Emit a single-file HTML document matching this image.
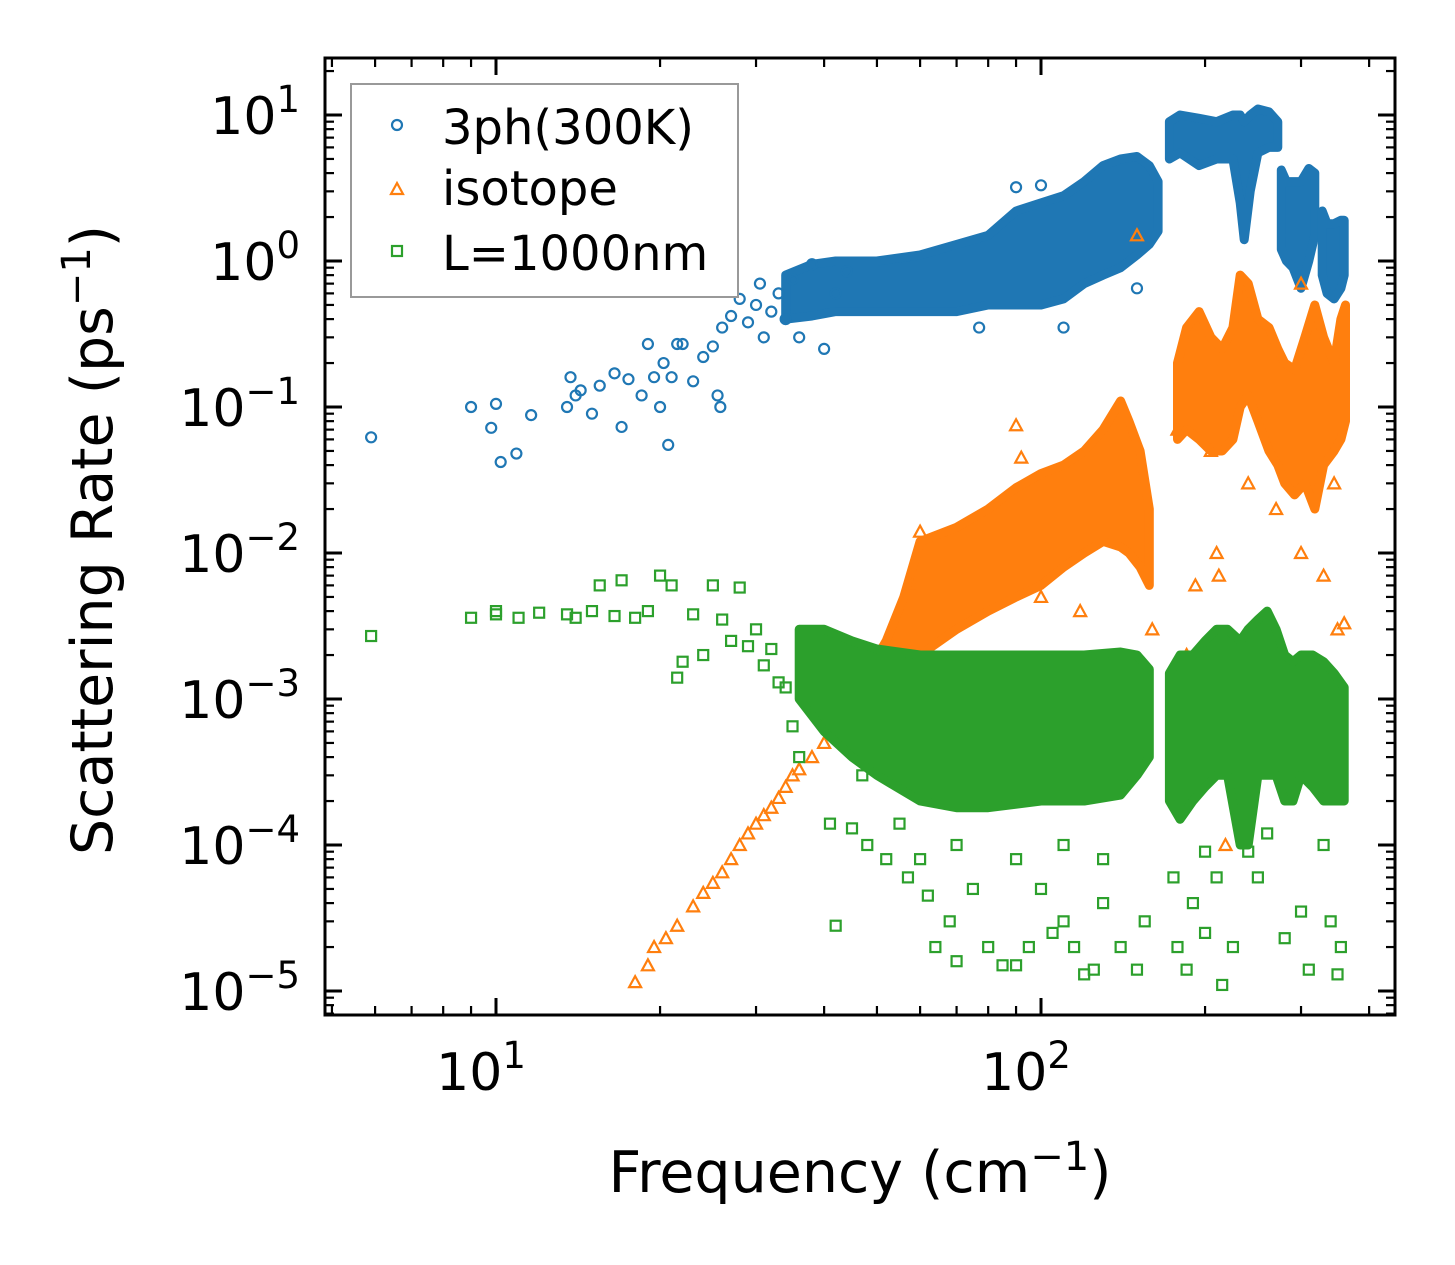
<!DOCTYPE html>
<html><head><meta charset="utf-8"><style>
html,body{margin:0;padding:0;background:#fff;}
svg{display:block;font-family:"DejaVu Sans","Liberation Sans",sans-serif;}
</style></head><body>
<svg id="chart" width="1455" height="1265" viewBox="0 0 1455 1265" xmlns="http://www.w3.org/2000/svg">
<rect x="0" y="0" width="1455" height="1265" fill="#fff"/>
<defs><clipPath id="plotclip"><rect x="325" y="58" width="1070" height="957"/></clipPath></defs>
<g id="plot" clip-path="url(#plotclip)"></g>
<g id="axes"></g>
<text x="860" y="1192" font-size="57" text-anchor="middle">Frequency (cm<tspan dy="-22" font-size="40">−1</tspan><tspan dy="22">)</tspan></text>
<text transform="translate(112,540) rotate(-90)" font-size="57" text-anchor="middle">Scattering Rate (ps<tspan dy="-22" font-size="40">−1</tspan><tspan dy="22">)</tspan></text>
<g>
<rect x="351" y="84" width="387" height="213" fill="#fff" stroke="#999" stroke-width="2"/>
<circle cx="397" cy="125" r="5" fill="none" stroke="#1f77b4" stroke-width="2.2"/>
<text x="442" y="144" font-size="48">3ph(300K)</text>
<polygon points="397,183 403,194 391,194" fill="none" stroke="#ff7f0e" stroke-width="2.2"/>
<text x="442" y="205" font-size="48">isotope</text>
<rect x="392" y="246" width="10" height="10" fill="none" stroke="#2ca02c" stroke-width="2.2"/>
<text x="442" y="270" font-size="48">L=1000nm</text>
</g>
</svg>
<script>
// ---- data ----
const blueBandX=[34,38,42,50,60,70,80,90,100,110,120,130,140,150,158,164];
const blueBandLow=[0.4,0.42,0.45,0.45,0.45,0.45,0.5,0.5,0.5,0.55,0.7,0.8,0.9,1.1,1.3,1.6];
const blueBandHigh=[0.8,0.95,1.0,1.0,1.1,1.3,1.5,2.2,2.5,2.8,3.5,4.5,5,5.2,4.5,3.5];
const blueBand2X=[172,180,195,210,225,232,236,242,250,262,272];
const blueBand2Low=[5,5.5,4.5,5,5,2.5,1.4,3,5.5,6,6];
const blueBand2High=[9,10,9.5,9,10,10,9,10,11,10.5,9];
const blueBand3X=[276,282,290,300,310,318];
const blueBand3Low=[1.2,1.0,0.9,0.65,1.0,1.5];
const blueBand3High=[4.2,3.5,3.5,3.5,4.3,4];
const blueBand4X=[328,335,345,355,360];
const blueBand4Low=[0.8,0.6,0.55,0.65,0.8];
const blueBand4High=[2.2,1.8,1.8,1.9,1.9];
const blueX=[5.9,9,9.8,10,10.2,10.9,11.6,13.5,13.7,14,14.3,15,15.5,16.5,17,17.5,18.5,19,19.5,20,20.3,20.7,21,21.5,22,23,24,25,25.5,25.8,26,27,28,29,30,30.5,31,32,33,34,35,36,38,40,42,44,77,90,100,110,150];
const blueY=[0.062,0.1,0.072,0.105,0.042,0.048,0.088,0.1,0.16,0.12,0.13,0.09,0.14,0.17,0.073,0.155,0.12,0.27,0.16,0.1,0.2,0.055,0.16,0.27,0.27,0.15,0.22,0.26,0.12,0.1,0.35,0.42,0.55,0.38,0.5,0.7,0.3,0.45,0.6,0.4,0.75,0.3,0.95,0.25,0.6,0.85,0.35,3.2,3.3,0.35,0.65];

const orangeBandX=[48,52,56,60,70,80,90,100,110,120,130,140,145,152,158];
const orangeBandLow=[0.9e-3,1.1e-3,1.5e-3,2e-3,3e-3,4e-3,5e-3,6e-3,8e-3,1e-2,1.2e-2,1.1e-2,1e-2,8e-3,6e-3];
const orangeBandHigh=[1.5e-3,2.5e-3,5e-3,1.2e-2,1.5e-2,2e-2,2.8e-2,3.5e-2,4e-2,5e-2,7e-2,1.1e-1,8e-2,5e-2,2e-2];
const orangeBand2X=[178,185,195,205,215,225,232,240,250,262,272,280,292,305,318,330,345,355,362];
const orangeBand2Low=[0.06,0.07,0.06,0.05,0.05,0.06,0.1,0.12,0.08,0.05,0.04,0.03,0.025,0.03,0.02,0.04,0.05,0.06,0.08];
const orangeBand2High=[0.2,0.35,0.45,0.3,0.25,0.35,0.8,0.7,0.4,0.35,0.25,0.2,0.18,0.3,0.5,0.3,0.2,0.4,0.5];
const orangeX=[18,19,19.5,20.5,21.5,23,24,25,26,27,28,29,30,31,32,33,34,35,36,38,40,42,44,46,58,60,90,92,100,118,150,160,178,185,192,205,210,212,215,218,240,270,300,330,350,300,345,360];
const orangeY=[1.15e-5,1.5e-5,2e-5,2.3e-5,2.8e-5,3.8e-5,4.7e-5,5.5e-5,6.5e-5,8e-5,1e-4,1.2e-4,1.4e-4,1.6e-4,1.8e-4,2.1e-4,2.5e-4,3e-4,3.3e-4,4e-4,5e-4,6e-4,7e-4,9e-4,6e-3,1.4e-2,7.5e-2,4.5e-2,5e-3,4e-3,1.5,3e-3,7e-2,2e-3,6e-3,5e-2,1e-2,7e-3,4e-4,1e-4,3e-2,2e-2,1e-2,7e-3,3e-3,0.7,3e-2,3.3e-3];

const greenBandX=[36,40,45,50,60,70,80,100,120,140,150,158];
const greenBandLow=[1e-3,6e-4,4e-4,3e-4,2e-4,1.8e-4,1.8e-4,2e-4,2e-4,2.2e-4,3e-4,4e-4];
const greenBandHigh=[3e-3,3e-3,2.5e-3,2.2e-3,2e-3,2e-3,2e-3,2e-3,2e-3,2.1e-3,2e-3,1.6e-3];
const greenBand2X=[172,180,190,200,210,220,232,240,250,260,270,280,290,300,315,330,345,360];
const greenBand2Low=[2e-4,1.5e-4,2e-4,2.5e-4,3e-4,3e-4,1e-4,1e-4,3e-4,3e-4,3e-4,2e-4,2e-4,3e-4,2.5e-4,2e-4,2e-4,2e-4];
const greenBand2High=[1.5e-3,2e-3,2e-3,2.5e-3,3e-3,3e-3,2.5e-3,3e-3,3.5e-3,4e-3,3e-3,2e-3,1.8e-3,2e-3,2e-3,1.8e-3,1.5e-3,1.2e-3];
const greenX=[5.9,9,10,10,11,12,13.5,14,15,15.5,16.5,17,18,19,20,21,21.5,22,23,24,25,26,27,28,29,30,31,32,33,34,35,36,42,41,45,47,48,52,55,57,60,62,64,68,70,75,80,85,90,95,100,105,110,115,120,125,130,140,150,155,175,178,185,190,200,210,215,225,240,250,280,300,310,340,350,355,70,90,110,130,200,260,330];
const greenY=[2.7e-3,3.6e-3,3.8e-3,4e-3,3.6e-3,3.9e-3,3.8e-3,3.6e-3,4e-3,6e-3,3.7e-3,6.5e-3,3.6e-3,4e-3,7e-3,6e-3,1.4e-3,1.8e-3,3.8e-3,2e-3,6e-3,3.5e-3,2.5e-3,5.8e-3,2.3e-3,3e-3,1.7e-3,2.2e-3,1.3e-3,1.2e-3,6.5e-4,4e-4,2.8e-5,1.4e-4,1.3e-4,3e-4,1e-4,8e-5,1.4e-4,6e-5,8e-5,4.5e-5,2e-5,3e-5,1.6e-5,5e-5,2e-5,1.5e-5,1.5e-5,2e-5,5e-5,2.5e-5,3e-5,2e-5,1.3e-5,1.4e-5,4e-5,2e-5,1.4e-5,3e-5,6e-5,2e-5,1.4e-5,4e-5,2.5e-5,6e-5,1.1e-5,2e-5,9e-5,6e-5,2.3e-5,3.5e-5,1.4e-5,3e-5,1.3e-5,2e-5,1e-4,8e-5,1e-4,8e-5,9e-5,1.2e-4,1e-4];

const xTickVals=[10,100];
const xTickLabels=["1","2"];
const yTickVals=[10,1,0.1,0.01,0.001,0.0001,0.00001];
const yTickLabels=["1","0","−1","−2","−3","−4","−5"];

// ---- scales ----
const L=325,R=1395,T=58,B=1015;
function sx(v){return 1041+545*(Math.log10(v)-2);}
function sy(v){return 261-146*Math.log10(v);}
const NS="http://www.w3.org/2000/svg";
const plot=document.getElementById('plot');
const axes=document.getElementById('axes');
function mk(tag,attrs,parent){const e=document.createElementNS(NS,tag);for(const k in attrs)e.setAttribute(k,attrs[k]);parent.appendChild(e);return e;}

const C={blue:"#1f77b4",orange:"#ff7f0e",green:"#2ca02c"};
function band(xs,lo,hi,col,name){
  let pts=xs.map((x,i)=>sx(x).toFixed(1)+","+sy(hi[i]).toFixed(1));
  for(let i=xs.length-1;i>=0;i--)pts.push(sx(xs[i]).toFixed(1)+","+sy(lo[i]).toFixed(1));
  const p=mk('polygon',{points:pts.join(' '),fill:col,stroke:col,'stroke-width':9,'stroke-linejoin':'round'},plot);
  
  
}
function pts(xs,ys,col,shape,name){
  xs.forEach((x,i)=>{
    const cx=sx(x),cy=sy(ys[i]);let e;
    if(shape==='c')e=mk('circle',{cx:cx,cy:cy,r:5,fill:'none',stroke:col,'stroke-width':2.2},plot);
    else if(shape==='t')e=mk('polygon',{points:`${cx},${cy-6} ${cx+6},${cy+5} ${cx-6},${cy+5}`,fill:'none',stroke:col,'stroke-width':2.2},plot);
    else e=mk('rect',{x:cx-5,y:cy-5,width:10,height:10,fill:'none',stroke:col,'stroke-width':2.2},plot);
    
    
  });
}
band(blueBandX,blueBandLow,blueBandHigh,C.blue,'3ph-dense-region');
band(blueBand2X,blueBand2Low,blueBand2High,C.blue,'3ph-dense-region');
band(blueBand3X,blueBand3Low,blueBand3High,C.blue,'3ph-dense-region');
band(blueBand4X,blueBand4Low,blueBand4High,C.blue,'3ph-dense-region');
pts(blueX,blueY,C.blue,'c','3ph-point');
band(orangeBandX,orangeBandLow,orangeBandHigh,C.orange,'isotope-dense-region');
band(orangeBand2X,orangeBand2Low,orangeBand2High,C.orange,'isotope-dense-region');
pts(orangeX,orangeY,C.orange,'t','isotope-point');
band(greenBandX,greenBandLow,greenBandHigh,C.green,'boundary-dense-region');
band(greenBand2X,greenBand2Low,greenBand2High,C.green,'boundary-dense-region');
pts(greenX,greenY,C.green,'s','boundary-point');

// ---- axes ----
const frame=mk('rect',{x:L,y:T,width:R-L,height:B-T,fill:'none',stroke:'#000','stroke-width':3},axes);


function tick(x1,y1,x2,y2,w){const t=mk('line',{x1,y1,x2,y2,stroke:'#000','stroke-width':w},axes);
  
  }
for(let d=0;d<=3;d++){for(let m=1;m<10;m++){
  const v=m*Math.pow(10,d);const x=sx(v);if(x<L+1||x>R-1)continue;
  const len=m===1?17:9,w=m===1?3:2.2;
  tick(x,B,x,B-len,w);tick(x,T,x,T+len,w);
}}
for(let d=-6;d<=2;d++){for(let m=1;m<10;m++){
  const v=m*Math.pow(10,d);const y=sy(v);if(y<T+1||y>B-1)continue;
  const len=m===1?17:9,w=m===1?3:2.2;
  tick(L,y,L+len,y,w);tick(R,y,R-len,y,w);
}}
xTickVals.forEach((v,i)=>{
  const t=mk('text',{x:sx(v)-15,y:1090,'font-size':52,'text-anchor':'middle'},axes);
  
  
  t.textContent='10';
  const s=mk('tspan',{dy:-22,'font-size':37},t);s.textContent=xTickLabels[i];
});
yTickVals.forEach((v,i)=>{
  const t=mk('text',{x:300,y:sy(v)+19,'font-size':52,'text-anchor':'end'},axes);
  
  
  const a=mk('tspan',{},t);a.textContent='10';
  const s=mk('tspan',{dy:-22,'font-size':37},t);s.textContent=yTickLabels[i];
});
</script>
</body></html>
